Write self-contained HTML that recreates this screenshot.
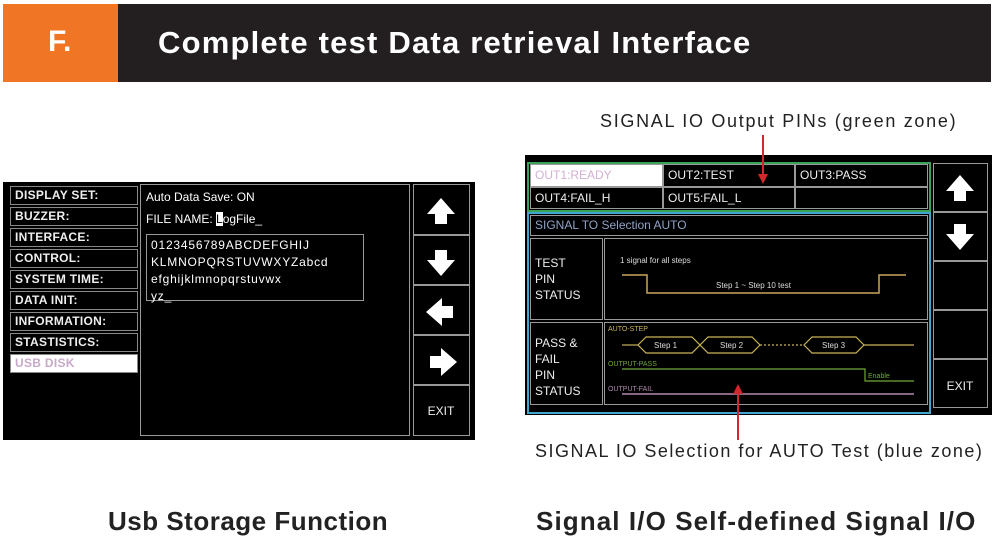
<!DOCTYPE html>
<html><head><meta charset="utf-8"><style>
*{margin:0;padding:0;box-sizing:border-box}
body{width:1000px;height:552px;background:#fff;position:relative;overflow:hidden;font-family:"Liberation Sans",sans-serif}
.a{position:absolute}
.t{color:#fff;white-space:nowrap}
.m{position:absolute;left:10px;width:128px;height:19px;border:1px solid #888;color:#eee;font-size:12px;font-weight:bold;padding-left:4px;line-height:17px;letter-spacing:.3px}
.b{position:absolute;border:1.5px solid #999}
.c{position:absolute;border:1.5px solid #999;color:#eee;font-size:12px;padding-left:4px;line-height:20px}
</style></head><body>
<div class="a" style="left:3px;top:4px;width:988px;height:78px;background:#231f20"></div>
<div class="a" style="left:3px;top:4px;width:115px;height:78px;background:#f07524"></div>
<div class="a t" style="left:48px;top:25px;font-size:30px;font-weight:bold">F.</div>
<div class="a t" style="left:158px;top:25px;font-size:31px;font-weight:bold;letter-spacing:1.2px">Complete test Data retrieval Interface</div>

<!-- left screen -->
<div class="a" style="left:3px;top:182px;width:472px;height:258px;background:#000"></div>
<div class="m" style="top:186px">DISPLAY SET:</div>
<div class="m" style="top:207px">BUZZER:</div>
<div class="m" style="top:228px">INTERFACE:</div>
<div class="m" style="top:249px">CONTROL:</div>
<div class="m" style="top:270px">SYSTEM TIME:</div>
<div class="m" style="top:291px">DATA INIT:</div>
<div class="m" style="top:312px">INFORMATION:</div>
<div class="m" style="top:333px">STASTISTICS:</div>
<div class="m" style="top:354px;background:#fff;color:#c9a9c9">USB DISK</div>
<div class="b" style="left:140px;top:184px;width:270px;height:252px"></div>
<div class="a t" style="left:146px;top:190px;font-size:12px">Auto Data Save: ON</div>
<div class="a t" style="left:146px;top:212px;font-size:12px">FILE NAME: <span style="background:#fff;color:#000">L</span>ogFile_</div>
<div class="b" style="left:146px;top:234px;width:218px;height:67px"></div>
<div class="a t" style="left:151px;top:237px;font-size:12px;line-height:17px;letter-spacing:.8px">0123456789ABCDEFGHIJ<br>KLMNOPQRSTUVWXYZabcd<br>efghijklmnopqrstuvwx<br>yz_</div>
<div class="b" style="left:413px;top:184px;width:57px;height:252px"></div>
<div class="a" style="left:413px;top:234px;width:57px;height:1.5px;background:#999"></div>
<div class="a" style="left:413px;top:284px;width:57px;height:1.5px;background:#999"></div>
<div class="a" style="left:413px;top:334px;width:57px;height:1.5px;background:#999"></div>
<div class="a" style="left:413px;top:384px;width:57px;height:1.5px;background:#999"></div>
<svg class="a" style="left:413px;top:184px" width="57" height="252">
<g fill="#fff">
<polygon points="28,14 42,30 34,30 34,40 22,40 22,30 14,30"/>
<polygon points="28,92 42,76 34,76 34,66 22,66 22,76 14,76"/>
<polygon points="13,128 29,114 29,122 40,122 40,134 29,134 29,142"/>
<polygon points="44,178 28,164 28,172 17,172 17,184 28,184 28,192"/>
</g>
<text x="28" y="231" fill="#eee" font-size="12" text-anchor="middle" font-family="Liberation Sans">EXIT</text>
</svg>

<!-- right screen -->
<div class="a t" style="left:600px;top:111px;font-size:18px;letter-spacing:1.7px;color:#222">SIGNAL IO Output PINs (green zone)</div>
<div class="a" style="left:525px;top:155px;width:467px;height:260px;background:#000"></div>
<div class="a" style="left:527px;top:162px;width:404px;height:50px;border:2px solid #3aa35a"></div>
<div class="a" style="left:527px;top:212px;width:404px;height:202px;border:2px solid #3fa6d0"></div>
<div class="c" style="left:530px;top:164px;width:133px;height:23px;background:#fff;color:#d4b0d4">OUT1:READY</div>
<div class="c" style="left:663px;top:164px;width:132px;height:23px">OUT2:TEST</div>
<div class="c" style="left:795px;top:164px;width:133px;height:23px">OUT3:PASS</div>
<div class="c" style="left:530px;top:187px;width:133px;height:22px">OUT4:FAIL_H</div>
<div class="c" style="left:663px;top:187px;width:132px;height:22px">OUT5:FAIL_L</div>
<div class="c" style="left:795px;top:187px;width:133px;height:22px"></div>
<div class="c" style="left:530px;top:215px;width:398px;height:21px;color:#8fa3c8;line-height:18px">SIGNAL TO Selection AUTO</div>
<div class="c" style="left:530px;top:238px;width:73px;height:82px;line-height:16px;padding-top:16px">TEST<br>PIN<br>STATUS</div>
<div class="c" style="left:604px;top:238px;width:324px;height:82px"></div>
<div class="c" style="left:530px;top:322px;width:73px;height:83px;line-height:16px;padding-top:12px">PASS &amp;<br>FAIL<br>PIN<br>STATUS</div>
<div class="c" style="left:604px;top:322px;width:324px;height:83px"></div>
<svg class="a" style="left:604px;top:238px" width="324" height="168" font-family="Liberation Sans">
<text x="16" y="25" fill="#ddd" font-size="8">1 signal for all steps</text>
<polyline points="18,37 43,37 43,55 275,55 275,37 302,37" fill="none" stroke="#c9a55a" stroke-width="1.5"/>
<text x="112" y="50" fill="#ddd" font-size="8">Step 1 ~ Step 10 test</text>
<text x="4" y="93" fill="#c9b45a" font-size="7">AUTO-STEP</text>
<g fill="none" stroke="#c9b45a" stroke-width="1.2">
<line x1="18" y1="107" x2="34" y2="107"/>
<polygon points="34,107 42,99 88,99 96,107 88,115 42,115"/>
<polygon points="96,107 104,99 148,99 156,107 148,115 104,115"/>
<line x1="156" y1="107" x2="200" y2="107" stroke-dasharray="2,2"/>
<polygon points="200,107 208,99 252,99 260,107 252,115 208,115"/>
<line x1="260" y1="107" x2="310" y2="107"/>
</g>
<text x="50" y="110" fill="#ddd" font-size="8">Step 1</text>
<text x="116" y="110" fill="#ddd" font-size="8">Step 2</text>
<text x="218" y="110" fill="#ddd" font-size="8">Step 3</text>
<text x="4" y="128" fill="#6fa83a" font-size="7">OUTPUT-PASS</text>
<polyline points="18,131 261,131 261,143 310,143" fill="none" stroke="#6fa83a" stroke-width="1.2"/>
<text x="264" y="140" fill="#6fa83a" font-size="7">Enable</text>
<text x="4" y="153" fill="#b08ab0" font-size="7">OUTPUT-FAIL</text>
<line x1="18" y1="156" x2="310" y2="156" stroke="#b08ab0" stroke-width="1.5"/>
</svg>
<div class="b" style="left:933px;top:163px;width:55px;height:245px"></div>
<div class="a" style="left:933px;top:211px;width:55px;height:1.5px;background:#999"></div>
<div class="a" style="left:933px;top:260px;width:55px;height:1.5px;background:#999"></div>
<div class="a" style="left:933px;top:309px;width:55px;height:1.5px;background:#999"></div>
<div class="a" style="left:933px;top:358px;width:55px;height:1.5px;background:#999"></div>
<svg class="a" style="left:933px;top:163px" width="55" height="245">
<g fill="#fff">
<polygon points="27,12 41,28 33,28 33,38 21,38 21,28 13,28"/>
<polygon points="27,87 41,71 33,71 33,61 21,61 21,71 13,71"/>
</g>
<text x="27" y="227" fill="#eee" font-size="12" text-anchor="middle" font-family="Liberation Sans">EXIT</text>
</svg>
<svg class="a" style="left:0;top:0" width="1000" height="552">
<line x1="763" y1="135" x2="763" y2="176" stroke="#d0282c" stroke-width="2"/>
<polygon points="758,174 768,174 763,184" fill="#d0282c"/>
<line x1="738" y1="440" x2="738" y2="392" stroke="#d0282c" stroke-width="2"/>
<polygon points="733,394 743,394 738,384" fill="#d0282c"/>
</svg>
<div class="a t" style="left:535px;top:441px;font-size:18px;letter-spacing:1.5px;color:#222">SIGNAL IO Selection for AUTO Test (blue zone)</div>

<div class="a t" style="left:108px;top:506px;font-size:26px;font-weight:bold;letter-spacing:.5px;color:#222">Usb Storage Function</div>
<div class="a t" style="left:536px;top:506px;font-size:26px;font-weight:bold;letter-spacing:1.1px;color:#222">Signal I/O Self-defined Signal I/O</div>
</body></html>
